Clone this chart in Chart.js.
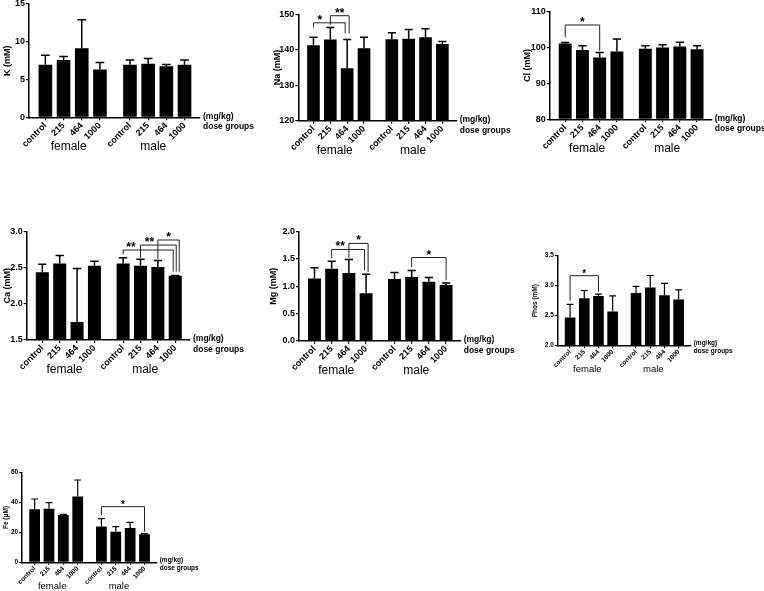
<!DOCTYPE html>
<html lang="en">
<head>
<meta charset="UTF-8">
<title>Serum electrolytes by dose group</title>
<style>
    html, body {
        margin: 0;
        padding: 0;
        width: 764px;
        height: 591px;
        overflow: hidden;
        background: #fff;
    }
    .panel {
        position: absolute;
    }
</style>
</head>
<body>
<div id="figure"></div>

<script src="https://cdn.jsdelivr.net/npm/chart.js@4.4.0/dist/chart.umd.min.js"></script>
<script>
    // categories (4 female dose groups, then 4 male)
    const doseLabels = ['control', '215', '464', '1000', 'control', '215', '464', '1000'];
    const sexGroups = ['female', 'male'];
    const unitLabels = ['(mg/kg)', 'dose groups'];

    // means and SD
    const kMean = [6.95, 7.6, 9.15, 6.33, 6.95, 7.08, 6.77, 6.95];
    const kSd = [1.25, 0.45, 3.75, 0.93, 0.62, 0.72, 0.23, 0.62];

    const naMean = [141.3, 142.9, 134.8, 140.4, 143.0, 143.1, 143.5, 141.6];
    const naSd = [2.2, 3.4, 8.1, 3.1, 1.8, 2.6, 2.4, 0.7];

    const clMean = [101.1, 99.3, 97.2, 98.9, 99.7, 100.0, 100.3, 99.5];
    const clSd = [0.3, 1.2, 1.4, 3.5, 0.8, 0.8, 1.2, 1.0];

    const caMean = [2.44, 2.56, 1.75, 2.53, 2.56, 2.53, 2.51, 2.39];
    const caSd = [0.11, 0.11, 0.74, 0.06, 0.08, 0.09, 0.09, 0.005];

    const mgMean = [1.14, 1.32, 1.24, 0.87, 1.13, 1.17, 1.08, 1.02];
    const mgSd = [0.20, 0.14, 0.25, 0.35, 0.12, 0.12, 0.08, 0.04];

    const phosMean = [2.47, 2.79, 2.83, 2.57, 2.88, 2.97, 2.84, 2.77];
    const phosSd = [0.22, 0.13, 0.03, 0.26, 0.11, 0.20, 0.20, 0.16];

    const feMean = [35.5, 35.9, 31.7, 44.0, 23.9, 20.5, 23.0, 18.75];
    const feSd = [6.9, 4.1, 0.4, 11.1, 5.3, 3.4, 3.8, 0.45];

    const FONT = '"Liberation Sans", Arial, sans-serif';
    const GAP = 0.65; // extra room between female and male groups, in bar slots

    function slot(i) {
        return i + 1 + (i >= 4 ? GAP : 0);
    }

    // box = plot area on the page [left, top, right, bottom]
    // bracket: from/to bar index, level and drop ends in data units
    const panels = [
        { title: 'K (mM)', mean: kMean, sd: kSd, yMin: 0, yMax: 15, yStep: 5, dec: 0,
          box: [29, 4, 200, 117.3], titleDist: 22, brackets: [] },
        { title: 'Na (mM)', mean: naMean, sd: naSd, yMin: 120, yMax: 150, yStep: 10, dec: 0,
          box: [298.3, 14.3, 456.7, 120.7], titleDist: 21,
          brackets: [
              { from: 0, to: 2, level: 147.6, fromEnd: 146.3, toEnd: 144.6, dx: -2, text: '*', starAt: 1.38 },
              { from: 1, to: 2, level: 149.6, fromEnd: 147.0, toEnd: 144.6, dx: 2, text: '**' }
          ] },
        { title: 'Cl (mM)', mean: clMean, sd: clSd, yMin: 80, yMax: 110, yStep: 10, dec: 0,
          box: [549.7, 11.7, 711.7, 119.3], titleDist: 22,
          brackets: [
              { from: 0, to: 2, level: 106.3, fromEnd: 102.85, toEnd: 99.1, text: '*' }
          ] },
        { title: 'Ca (mM)', mean: caMean, sd: caSd, yMin: 1.5, yMax: 3.0, yStep: 0.5, dec: 1,
          box: [26.7, 231.7, 190, 340], titleDist: 19.4,
          brackets: [
              { from: 4, to: 7, level: 2.746, fromEnd: 2.686, toEnd: 2.446, dx: -2, text: '**', starAt: 6.1 },
              { from: 5, to: 7, level: 2.815, fromEnd: 2.64, toEnd: 2.446, dx: 1, text: '**', starAt: 7.17 },
              { from: 6, to: 7, level: 2.885, fromEnd: 2.617, toEnd: 2.446, dx: 4, text: '*' }
          ] },
        { title: 'Mg (mM)', mean: mgMean, sd: mgSd, yMin: 0, yMax: 2.0, yStep: 0.5, dec: 1,
          box: [299, 231.7, 460.7, 340.7], titleDist: 25.7,
          brackets: [
              { from: 1, to: 3, level: 1.674, fromEnd: 1.508, toEnd: 1.292, dx: -1.5, text: '**', starAt: 2.5 },
              { from: 2, to: 3, level: 1.785, fromEnd: 1.52, toEnd: 1.262, dx: 2, text: '*' },
              { from: 5, to: 7, level: 1.526, fromEnd: 1.354, toEnd: 1.108, text: '*' }
          ] },
        { title: 'Phos (mM)', mean: phosMean, sd: phosSd, yMin: 2.0, yMax: 3.5, yStep: 0.5, dec: 1,
          box: [557.3, 255.7, 690.7, 345.7], titleDist: 22, small: true,
          brackets: [
              { from: 0, to: 2, level: 3.167, fromEnd: 2.75, toEnd: 2.9, text: '*' }
          ] },
        { title: 'Fe (\u03bcM)', mean: feMean, sd: feSd, yMin: 0, yMax: 60, yStep: 20, dec: 0,
          box: [21.7, 472.7, 156.7, 562.3], titleDist: 15.7, small: true,
          brackets: [
              { from: 4, to: 7, level: 37.25, fromEnd: 31.7, toEnd: 20.5, text: '*' }
          ] }
    ];

    function makeOverlay(p, fs) {
        return {
            id: 'overlay',
            afterDatasetsDraw(chart) {
                const { ctx, scales: { x, y } } = chart;
                const meta = chart.getDatasetMeta(0);

                // upper error bars
                ctx.save();
                ctx.strokeStyle = '#000';
                ctx.lineWidth = fs.err;
                meta.data.forEach((bar, i) => {
                    const top = y.getPixelForValue(p.mean[i] + p.sd[i]);
                    const half = bar.width * 0.32;
                    ctx.beginPath();
                    ctx.moveTo(bar.x, bar.y);
                    ctx.lineTo(bar.x, top);
                    ctx.moveTo(bar.x - half, top);
                    ctx.lineTo(bar.x + half, top);
                    ctx.stroke();
                });

                // significance brackets
                ctx.strokeStyle = '#222';
                ctx.lineWidth = 1;
                ctx.fillStyle = '#000';
                ctx.font = 'bold ' + fs.star + 'px ' + FONT;
                ctx.textAlign = 'center';
                ctx.textBaseline = 'alphabetic';
                p.brackets.forEach(s => {
                    const lx = x.getPixelForValue(slot(s.from));
                    const rx = x.getPixelForValue(slot(s.to)) + (s.dx || 0);
                    const ly = y.getPixelForValue(s.level);
                    ctx.beginPath();
                    ctx.moveTo(lx, y.getPixelForValue(s.fromEnd));
                    ctx.lineTo(lx, ly);
                    ctx.lineTo(rx, ly);
                    ctx.lineTo(rx, y.getPixelForValue(s.toEnd));
                    ctx.stroke();
                    const sx = s.starAt != null ? x.getPixelForValue(s.starAt) : (lx + rx) / 2;
                    ctx.fillText(s.text, sx, ly + fs.starDy);
                });
                ctx.restore();
            },
            afterDraw(chart) {
                const { ctx, chartArea: a, scales: { x } } = chart;
                ctx.save();
                ctx.fillStyle = '#000';
                ctx.textBaseline = 'middle';
                ctx.textAlign = 'center';
                ctx.font = fs.group + 'px ' + FONT;
                sexGroups.forEach((name, g) => {
                    const x0 = x.getPixelForValue(slot(g * 4));
                    const x1 = x.getPixelForValue(slot(g * 4 + 3));
                    ctx.fillText(name, (x0 + x1) / 2 - 4, a.bottom + fs.groupDy);
                });
                ctx.textAlign = 'left';
                ctx.font = 'bold ' + fs.unit + 'px ' + FONT;
                ctx.fillText(unitLabels[0], a.right + 3, a.bottom + fs.unitDy[0]);
                ctx.fillText(unitLabels[1], a.right + 3, a.bottom + fs.unitDy[1]);
                ctx.restore();
            }
        };
    }

    const figure = document.getElementById('figure');

    panels.forEach(p => {
        const fs = p.small
            ? { tick: 6.5, title: 6.5, group: 9.5, unit: 6.5, star: 10, starDy: 1, err: 1.2, tl: 2.5, groupDy: 24, unitDy: [-2, 6] }
            : { tick: 9, title: 9, group: 12, unit: 8.5, star: 12, starDy: 1, err: 1.5, tl: 3, groupDy: 29.5, unitDy: [-1, 9.5] };
        const [l, t, r, b] = p.box;

        // place the canvas so that the chart area lands on the box
        const left = Math.round(l - p.titleDist - fs.title * 0.6);
        const top = Math.round(t - 20);
        const width = Math.round(r + 62 - left);
        const height = Math.round(b + 48 - top);
        const yW = l - left;
        const padTop = t - top;
        const padRight = left + width - r;
        const xH = top + height - b;

        const div = document.createElement('div');
        div.className = 'panel';
        div.style.left = left + 'px';
        div.style.top = top + 'px';
        div.style.width = width + 'px';
        div.style.height = height + 'px';
        const canvas = document.createElement('canvas');
        div.appendChild(canvas);
        figure.appendChild(div);

        const tickFont = { family: FONT, size: fs.tick, weight: 'bold' };

        new Chart(canvas, {
            type: 'bar',
            data: {
                datasets: [{
                    data: p.mean.map((v, i) => ({ x: slot(i), y: v })),
                    backgroundColor: '#000',
                    borderWidth: 0,
                    base: p.yMin,
                    categoryPercentage: 1,
                    barPercentage: 0.75
                }]
            },
            options: {
                animation: false,
                responsive: true,
                maintainAspectRatio: false,
                layout: { padding: { left: 0, top: padTop, right: padRight, bottom: 0 } },
                plugins: {
                    legend: { display: false },
                    tooltip: { enabled: false }
                },
                scales: {
                    x: {
                        type: 'linear',
                        min: 0.1,
                        max: 9.5,
                        offset: false,
                        afterBuildTicks: ax => { ax.ticks = doseLabels.map((_, i) => ({ value: slot(i) })); },
                        afterFit: ax => { ax.height = xH; },
                        ticks: {
                            autoSkip: false,
                            minRotation: 45,
                            maxRotation: 45,
                            padding: 0,
                            color: '#000',
                            font: tickFont,
                            callback: (v, i) => doseLabels[i]
                        },
                        grid: { offset: false, drawOnChartArea: false, drawTicks: true, tickLength: fs.tl, color: '#000', lineWidth: 1.2 },
                        border: { color: '#000', width: 1.5 }
                    },
                    y: {
                        min: p.yMin,
                        max: p.yMax,
                        afterFit: ax => { ax.width = yW; },
                        ticks: {
                            stepSize: p.yStep,
                            padding: 1,
                            color: '#000',
                            font: tickFont,
                            callback: v => Number(v).toFixed(p.dec)
                        },
                        grid: { drawOnChartArea: false, drawTicks: true, tickLength: fs.tl, color: '#000', lineWidth: 1.2 },
                        border: { color: '#000', width: 1.5 },
                        title: {
                            display: true,
                            text: p.title,
                            color: '#000',
                            padding: 0,
                            font: { family: FONT, size: fs.title, weight: 'bold' }
                        }
                    }
                }
            },
            plugins: [makeOverlay(p, fs)]
        });
    });
</script>
</body>
</html>
